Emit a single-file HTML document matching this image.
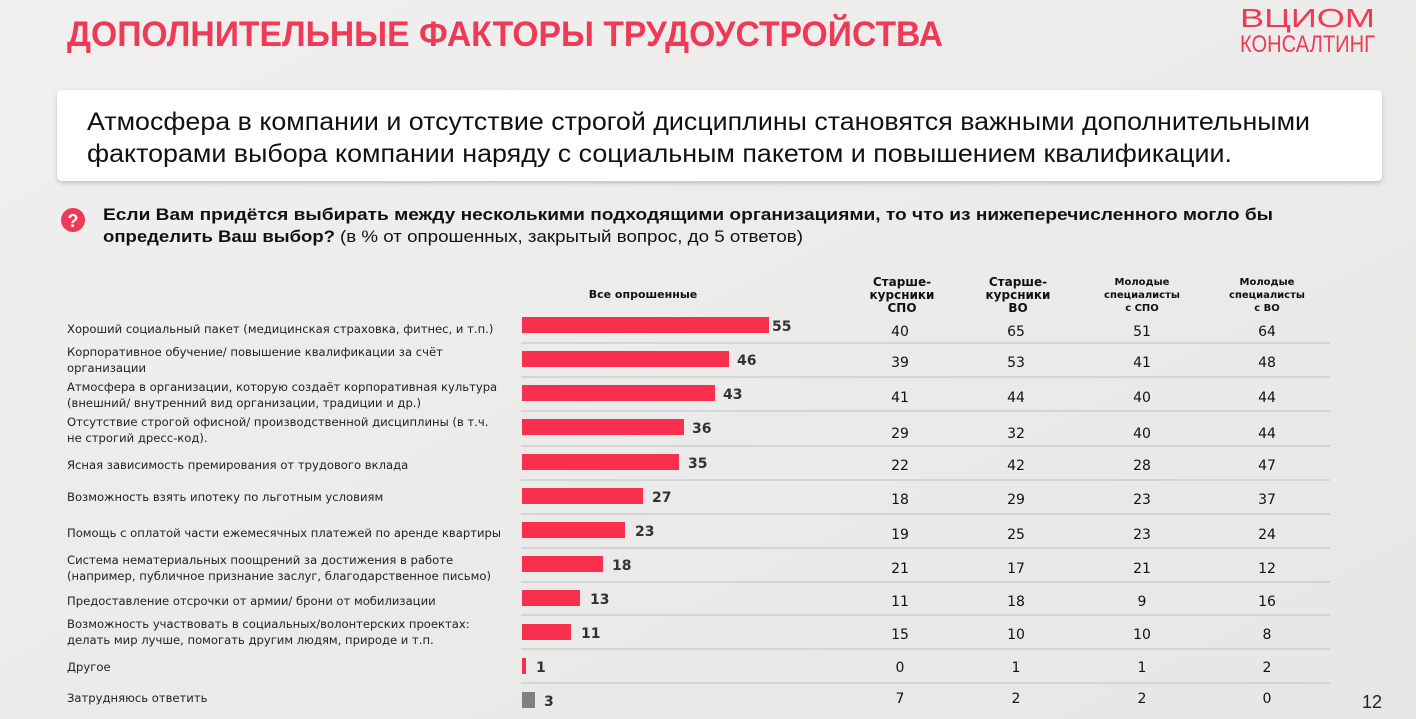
<!DOCTYPE html>
<html><head><meta charset="utf-8"><style>
html,body{margin:0;padding:0;width:1416px;height:719px;overflow:hidden;background:#ededed}
svg{display:block}
</style></head><body>
<svg width="1416" height="719" xmlns="http://www.w3.org/2000/svg" font-family="'DejaVu Sans','Liberation Sans',sans-serif">
<defs>
<linearGradient id="bg" x1="0" y1="0" x2="1" y2="1"><stop offset="0" stop-color="#f1f0ef"/><stop offset="1" stop-color="#e6e6e6"/></linearGradient>
<filter id="sh" x="-5%" y="-20%" width="110%" height="150%"><feDropShadow dx="0" dy="2" stdDeviation="2.5" flood-color="#000" flood-opacity="0.2"/></filter>
</defs>
<rect width="1416" height="719" fill="url(#bg)"/>
<text x="67" y="46" font-family="'Liberation Sans',sans-serif" font-weight="bold" font-size="35" fill="#ee3a56" textLength="876" lengthAdjust="spacingAndGlyphs">ДОПОЛНИТЕЛЬНЫЕ ФАКТОРЫ ТРУДОУСТРОЙСТВА</text>
<text x="1240" y="27" font-family="'Liberation Sans',sans-serif" font-size="26" fill="#ee3a56" textLength="135" lengthAdjust="spacingAndGlyphs">ВЦИОМ</text>
<text x="1240" y="52" font-family="'Liberation Sans',sans-serif" font-size="24" fill="#ee3a56" textLength="135" lengthAdjust="spacingAndGlyphs">КОНСАЛТИНГ</text>
<rect x="57" y="90" width="1325" height="91" rx="5" fill="#fff" filter="url(#sh)"/>
<g font-family="'Liberation Sans',sans-serif" font-size="25" fill="#111">
<text x="87" y="130" textLength="1223" lengthAdjust="spacingAndGlyphs">Атмосфера в компании и отсутствие строгой дисциплины становятся важными дополнительными</text>
<text x="87" y="162" textLength="1145" lengthAdjust="spacingAndGlyphs">факторами выбора компании наряду с социальным пакетом и повышением квалификации.</text>
</g>
<circle cx="73" cy="220" r="12" fill="#ee3a56"/>
<text x="73" y="227" text-anchor="middle" font-family="'Liberation Sans',sans-serif" font-weight="bold" font-size="18" fill="#fff">?</text>
<g font-family="'Liberation Sans',sans-serif" font-size="16.5" fill="#111">
<text x="103" y="220" font-weight="bold" textLength="1170" lengthAdjust="spacingAndGlyphs">Если Вам придётся выбирать между несколькими подходящими организациями, то что из нижеперечисленного могло бы</text>
<text x="103" y="242" font-weight="bold" textLength="232" lengthAdjust="spacingAndGlyphs">определить Ваш выбор?</text>
<text x="340" y="242" textLength="463" lengthAdjust="spacingAndGlyphs">(в % от опрошенных, закрытый вопрос, до 5 ответов)</text>
</g>
<g font-weight="bold" fill="#111" text-anchor="middle">
<text x="643" y="298" font-size="11">Все опрошенные</text>
<text x="902" y="286" font-size="12">Старше-</text><text x="902" y="299" font-size="12">курсники</text><text x="902" y="312" font-size="12">СПО</text>
<text x="1018" y="286" font-size="12">Старше-</text><text x="1018" y="299" font-size="12">курсники</text><text x="1018" y="312" font-size="12">ВО</text>
<text x="1142" y="285" font-size="10">Молодые</text><text x="1142" y="298" font-size="10">специалисты</text><text x="1142" y="311" font-size="10">с СПО</text>
<text x="1267" y="285" font-size="10">Молодые</text><text x="1267" y="298" font-size="10">специалисты</text><text x="1267" y="311" font-size="10">с ВО</text>
</g>
<g stroke="#c8c8c8" stroke-width="1.2">
<line x1="521" x2="1330" y1="343" y2="343"/><line x1="521" x2="1330" y1="377" y2="377"/>
<line x1="521" x2="1330" y1="411" y2="411"/><line x1="521" x2="1330" y1="446" y2="446"/>
<line x1="521" x2="1330" y1="480" y2="480"/><line x1="521" x2="1330" y1="514" y2="514"/>
<line x1="521" x2="1330" y1="548" y2="548"/><line x1="521" x2="1330" y1="582" y2="582"/>
<line x1="521" x2="1330" y1="615" y2="615"/><line x1="521" x2="1330" y1="649" y2="649"/>
<line x1="521" x2="1330" y1="683" y2="683"/>
</g>
<g font-size="11.6" fill="#222">
<text x="67" y="333">Хороший социальный пакет (медицинская страховка, фитнес, и т.п.)</text>
<text x="67" y="356">Корпоративное обучение/ повышение квалификации за счёт</text><text x="67" y="372">организации</text>
<text x="67" y="391">Атмосфера в организации, которую создаёт корпоративная культура</text><text x="67" y="407">(внешний/ внутренний вид организации, традиции и др.)</text>
<text x="67" y="426">Отсутствие строгой офисной/ производственной дисциплины (в т.ч.</text><text x="67" y="442">не строгий дресс-код).</text>
<text x="67" y="469">Ясная зависимость премирования от трудового вклада</text>
<text x="67" y="501">Возможность взять ипотеку по льготным условиям</text>
<text x="67" y="537">Помощь с оплатой части ежемесячных платежей по аренде квартиры</text>
<text x="67" y="564">Система нематериальных поощрений за достижения в работе</text><text x="67" y="580">(например, публичное признание заслуг, благодарственное письмо)</text>
<text x="67" y="605">Предоставление отсрочки от армии/ брони от мобилизации</text>
<text x="67" y="628">Возможность участвовать в социальных/волонтерских проектах:</text><text x="67" y="644">делать мир лучше, помогать другим людям, природе и т.п.</text>
<text x="67" y="671">Другое</text>
<text x="67" y="702">Затрудняюсь ответить</text>
</g>
<g fill="#f8304e">
<rect x="522" y="317" width="247" height="16"/>
<rect x="522" y="351" width="207" height="16"/>
<rect x="522" y="385" width="193" height="16"/>
<rect x="522" y="419" width="162" height="16"/>
<rect x="522" y="454" width="157" height="16"/>
<rect x="522" y="488" width="121" height="16"/>
<rect x="522" y="522" width="103" height="16"/>
<rect x="522" y="556" width="81" height="16"/>
<rect x="522" y="590" width="58" height="16"/>
<rect x="522" y="624" width="49" height="16"/>
<rect x="522" y="658" width="4" height="16"/>
</g>
<rect x="522" y="692" width="13" height="16" fill="#808080"/>
<g font-weight="bold" font-size="14" fill="#333">
<text x="772" y="331">55</text><text x="737" y="365">46</text><text x="723" y="399">43</text>
<text x="692" y="433">36</text><text x="688" y="468">35</text><text x="652" y="502">27</text>
<text x="635" y="536">23</text><text x="612" y="570">18</text><text x="590" y="604">13</text>
<text x="581" y="638">11</text><text x="536" y="672">1</text><text x="544" y="706">3</text>
</g>
<g font-size="14" fill="#111" text-anchor="middle">
<text x="900" y="336">40</text><text x="1016" y="336">65</text><text x="1142" y="336">51</text><text x="1267" y="336">64</text>
<text x="900" y="367">39</text><text x="1016" y="367">53</text><text x="1142" y="367">41</text><text x="1267" y="367">48</text>
<text x="900" y="402">41</text><text x="1016" y="402">44</text><text x="1142" y="402">40</text><text x="1267" y="402">44</text>
<text x="900" y="438">29</text><text x="1016" y="438">32</text><text x="1142" y="438">40</text><text x="1267" y="438">44</text>
<text x="900" y="470">22</text><text x="1016" y="470">42</text><text x="1142" y="470">28</text><text x="1267" y="470">47</text>
<text x="900" y="504">18</text><text x="1016" y="504">29</text><text x="1142" y="504">23</text><text x="1267" y="504">37</text>
<text x="900" y="539">19</text><text x="1016" y="539">25</text><text x="1142" y="539">23</text><text x="1267" y="539">24</text>
<text x="900" y="573">21</text><text x="1016" y="573">17</text><text x="1142" y="573">21</text><text x="1267" y="573">12</text>
<text x="900" y="606">11</text><text x="1016" y="606">18</text><text x="1142" y="606">9</text><text x="1267" y="606">16</text>
<text x="900" y="639">15</text><text x="1016" y="639">10</text><text x="1142" y="639">10</text><text x="1267" y="639">8</text>
<text x="900" y="672">0</text><text x="1016" y="672">1</text><text x="1142" y="672">1</text><text x="1267" y="672">2</text>
<text x="900" y="703">7</text><text x="1016" y="703">2</text><text x="1142" y="703">2</text><text x="1267" y="703">0</text>
</g>
<text x="1372" y="708" text-anchor="middle" font-family="'Liberation Sans',sans-serif" font-size="18" fill="#222">12</text>
</svg>
</body></html>
